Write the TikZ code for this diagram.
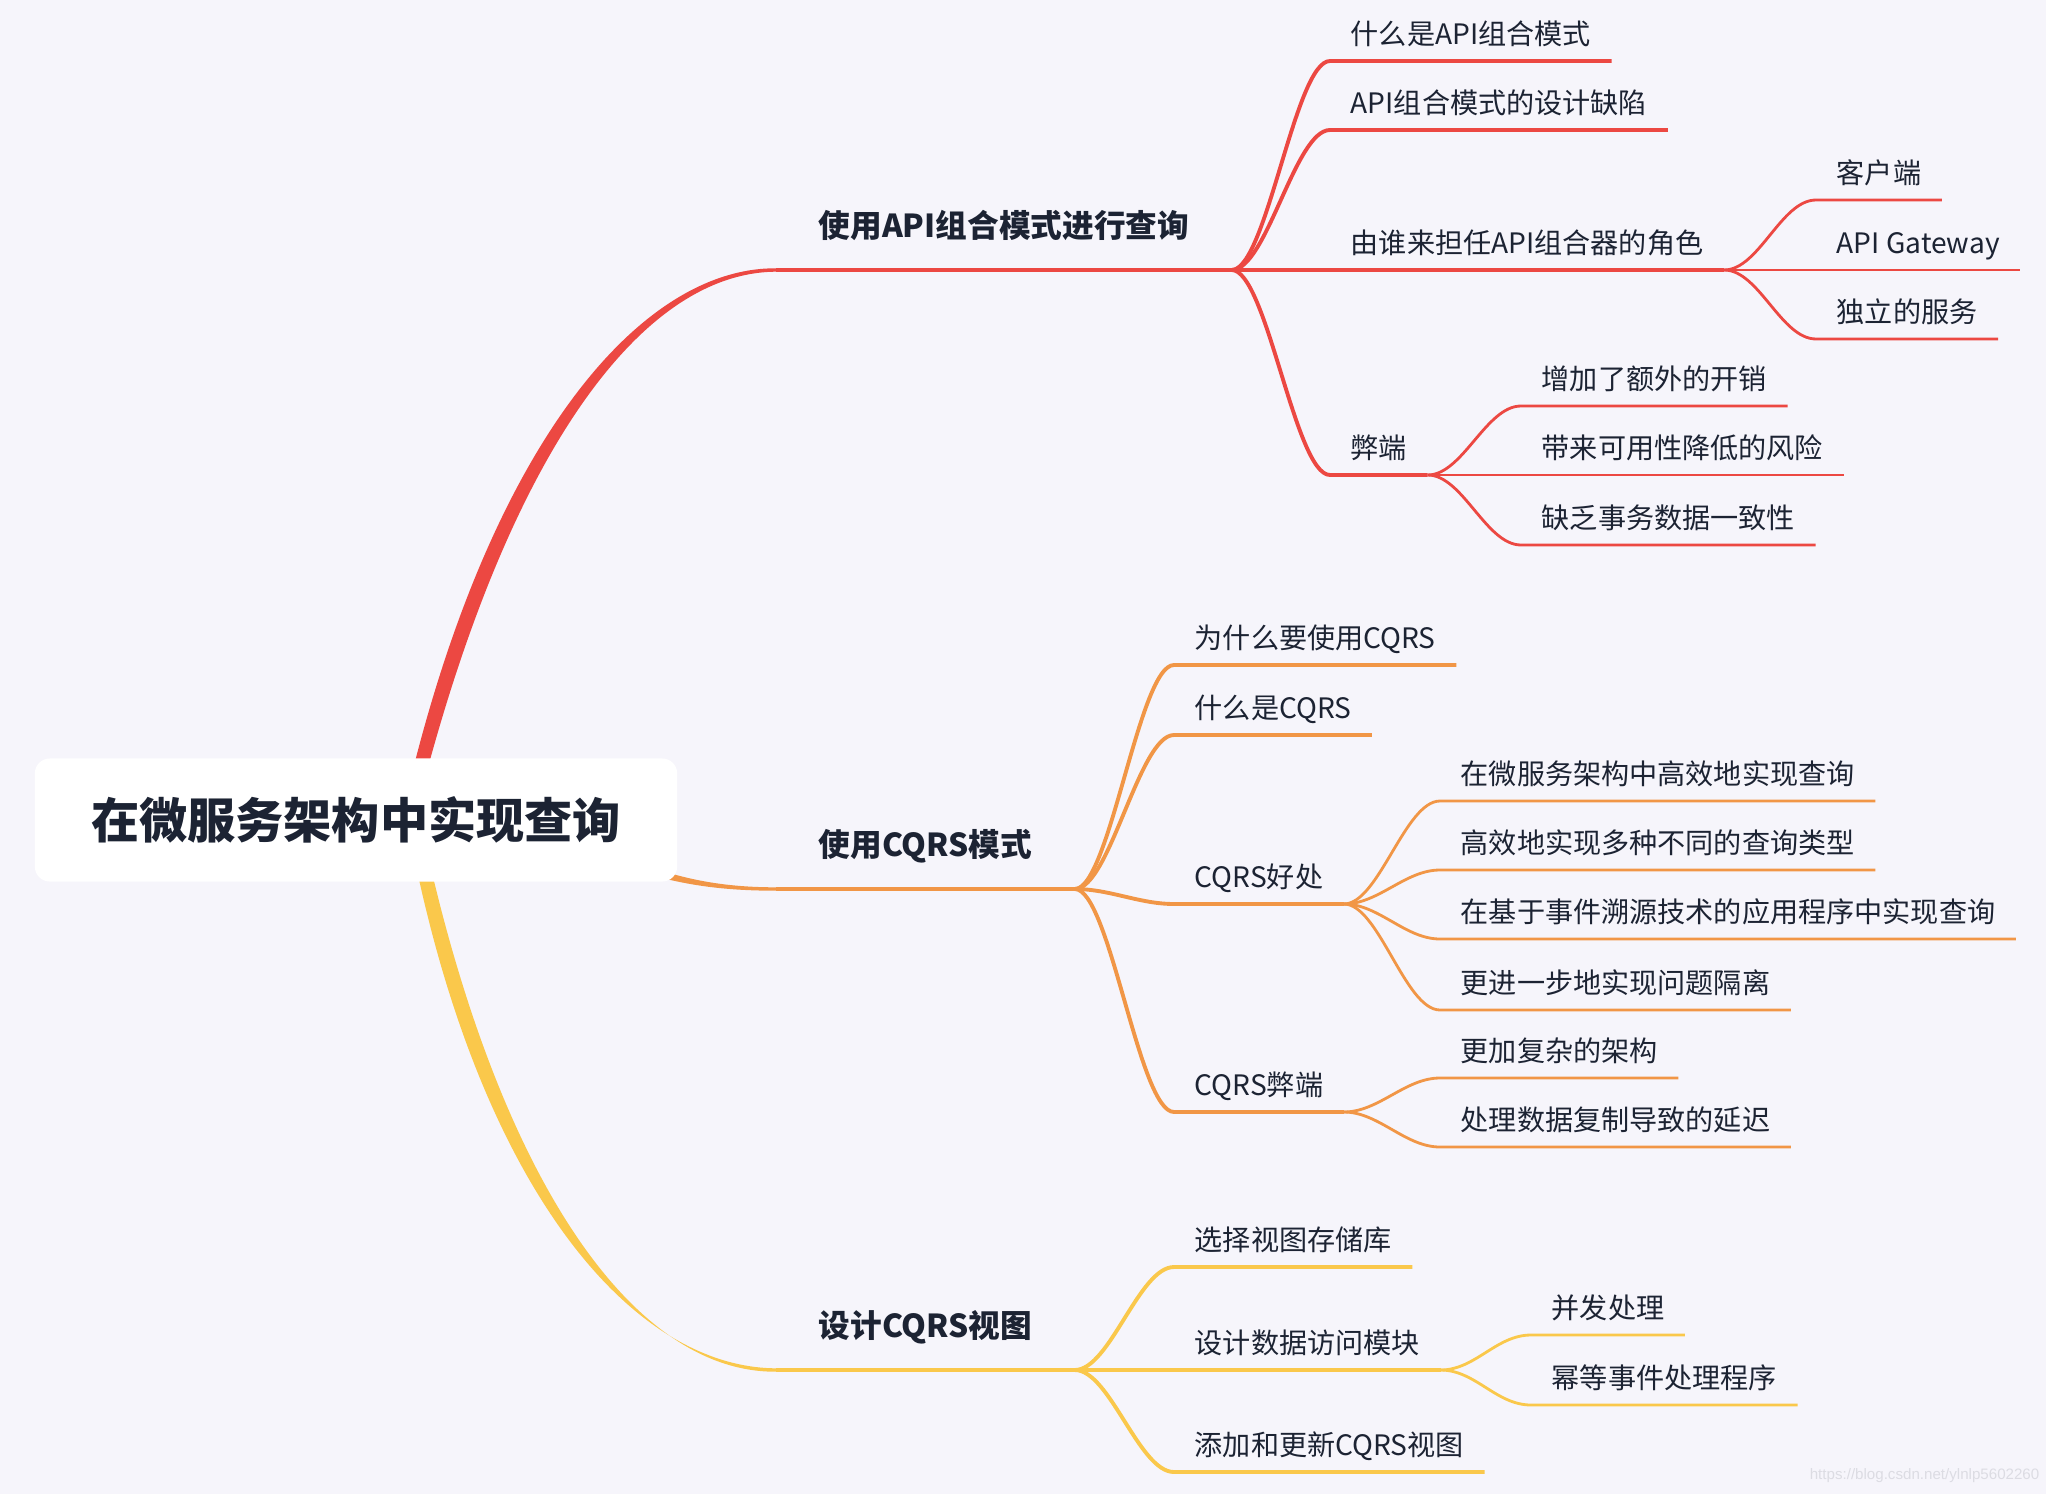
\documentclass[tikz,border=0pt]{standalone}
\usepackage{fontspec}
\setmainfont{Noto Sans CJK SC}
\newfontfamily\wmfont{Liberation Sans}
\usepackage{xcolor}
\usetikzlibrary{calc}

\definecolor{bgcol}{HTML}{F6F5FB}
\definecolor{ink}{HTML}{1C2333}
\definecolor{redc}{HTML}{EC4842}
\definecolor{orangec}{HTML}{F19646}
\definecolor{yellowc}{HTML}{FAC84B}
\definecolor{wmcol}{HTML}{DCDCE3}

\pgfdeclarelayer{back}
\pgfdeclarelayer{mid}
\pgfsetlayers{back,mid,main}

\begin{document}
\begin{tikzpicture}[x=0.01cm,y=-0.01cm]
	\tikzstyle{root_style} = [rectangle,rounded corners=0.15cm,fill=white,minimum width=6.42cm,minimum height=1.23cm,text=ink,font=\fontsize{13.7}{16}\selectfont\bfseries]
	\tikzstyle{main_style} = [anchor=south west,inner xsep=0.42cm,inner ysep=0.27cm,text height=0.26cm,text depth=0.05cm,text=ink,font=\fontsize{9}{11}\selectfont\bfseries]
	\tikzstyle{sub_style} = [anchor=south west,inner xsep=0.2cm,inner ysep=0.11cm,text height=0.24cm,text depth=0.05cm,text=ink,font=\fontsize{8}{10}\selectfont]
	\tikzstyle{red_line} = [draw=redc,line width=1.1pt]
	\tikzstyle{red_thin} = [draw=redc,line width=0.8pt]
	\tikzstyle{orange_line} = [draw=orangec,line width=1.1pt]
	\tikzstyle{orange_thin} = [draw=orangec,line width=0.8pt]
	\tikzstyle{yellow_line} = [draw=yellowc,line width=1.1pt]
	\tikzstyle{yellow_thin} = [draw=yellowc,line width=0.8pt]

	\begin{pgfonlayer}{back}
		\fill[bgcol] (0,0) rectangle (2046,1494);
	\end{pgfonlayer}
	\useasboundingbox (0,0) rectangle (2046,1494);

	% root and main topics
	\node[root_style] (root) at (356,820) {在微服务架构中实现查询};
	\node[main_style] (m1) at (776,270) {使用API组合模式进行查询};
	\node[main_style] (m2) at (776,889) {使用CQRS模式};
	\node[main_style] (m3) at (776,1370) {设计CQRS视图};

	% API composition
	\node[sub_style] (a1) at (1330,61) {什么是API组合模式};
	\node[sub_style] (a2) at (1330,130) {API组合模式的设计缺陷};
	\node[sub_style] (a3) at (1330,270) {由谁来担任API组合器的角色};
	\node[sub_style] (a4) at (1330,475) {弊端};
	\node[sub_style] (b1) at (1816,200) {客户端};
	\node[sub_style] (b2) at (1816,270) {API Gateway};
	\node[sub_style] (b3) at (1816,339) {独立的服务};
	\node[sub_style] (c1) at (1521,406) {增加了额外的开销};
	\node[sub_style] (c2) at (1521,475) {带来可用性降低的风险};
	\node[sub_style] (c3) at (1521,545) {缺乏事务数据一致性};

	% CQRS
	\node[sub_style] (d1) at (1174,665) {为什么要使用CQRS};
	\node[sub_style] (d2) at (1174,735) {什么是CQRS};
	\node[sub_style] (d3) at (1174,904) {CQRS好处};
	\node[sub_style] (d4) at (1174,1112) {CQRS弊端};
	\node[sub_style] (e1) at (1440,801) {在微服务架构中高效地实现查询};
	\node[sub_style] (e2) at (1440,870) {高效地实现多种不同的查询类型};
	\node[sub_style] (e3) at (1440,939) {在基于事件溯源技术的应用程序中实现查询};
	\node[sub_style] (e4) at (1440,1010) {更进一步地实现问题隔离};
	\node[sub_style] (f1) at (1440,1078) {更加复杂的架构};
	\node[sub_style] (f2) at (1440,1147) {处理数据复制导致的延迟};

	% CQRS views
	\node[sub_style] (g1) at (1174,1267) {选择视图存储库};
	\node[sub_style] (g2) at (1174,1370) {设计数据访问模块};
	\node[sub_style] (g3) at (1174,1472) {添加和更新CQRS视图};
	\node[sub_style] (h1) at (1531,1335) {并发处理};
	\node[sub_style] (h2) at (1531,1405) {幂等事件处理程序};

	\node[anchor=east,inner sep=0pt,text=wmcol,font=\wmfont\fontsize{4.3}{5}\selectfont] (wm) at (2040,1476) {https://blog.csdn.net/ylnlp5602260};

	% tapered branches out of the root
	\begin{pgfonlayer}{mid}
		\fill[redc] ($(root.north)+(52,32)$) .. controls (491,444) and (640,267.5) .. ($(m1.south west)+(0,-1.7)$) -- ($(m1.south west)+(0,1.7)$) .. controls (640,272.5) and (509,456) .. ($(root.north)+(66,32)$) -- cycle;
		\fill[orangec] ($(root.east)+(-77,30)$) .. controls (660,871) and (700,887.3) .. ($(m2.south west)+(0,-1.7)$) -- ($(m2.south west)+(0,1.7)$) .. controls (700,890.7) and (660,879) .. ($(root.east)+(-77,40)$) -- cycle;
		\fill[yellowc] ($(root.south)+(57,-31)$) .. controls (481,1186) and (630,1367.5) .. ($(m3.south west)+(0,-1.7)$) -- ($(m3.south west)+(0,1.7)$) .. controls (630,1372.5) and (500,1174) .. ($(root.south)+(71,-31)$) -- cycle;
	\end{pgfonlayer}

	% underlines of the main topics
	\draw[red_line] (m1.south west) -- (m1.south east);
	\draw[orange_line] (m2.south west) -- (m2.south east);
	\draw[yellow_line] (m3.south west) -- (m3.south east);

	\draw[red_line] (m1.south east) .. controls +(35,0) and +(-35,0) .. (a1.south west) -- (a1.south east);
	\draw[red_line] (m1.south east) .. controls +(35,0) and +(-35,0) .. (a2.south west) -- (a2.south east);
	\draw[red_line] (m1.south east) .. controls +(35,0) and +(-35,0) .. (a3.south west) -- (a3.south east);
	\draw[red_line] (m1.south east) .. controls +(35,0) and +(-35,0) .. (a4.south west) -- (a4.south east);
	\draw[red_thin] (a3.south east) .. controls +(35,0) and +(-35,0) .. (b1.south west) -- (b1.south east);
	\draw[red_thin] (a3.south east) .. controls +(35,0) and +(-35,0) .. (b2.south west) -- (b2.south east);
	\draw[red_thin] (a3.south east) .. controls +(35,0) and +(-35,0) .. (b3.south west) -- (b3.south east);
	\draw[red_thin] (a4.south east) .. controls +(35,0) and +(-35,0) .. (c1.south west) -- (c1.south east);
	\draw[red_thin] (a4.south east) .. controls +(35,0) and +(-35,0) .. (c2.south west) -- (c2.south east);
	\draw[red_thin] (a4.south east) .. controls +(35,0) and +(-35,0) .. (c3.south west) -- (c3.south east);

	\draw[orange_line] (m2.south east) .. controls +(35,0) and +(-35,0) .. (d1.south west) -- (d1.south east);
	\draw[orange_line] (m2.south east) .. controls +(35,0) and +(-35,0) .. (d2.south west) -- (d2.south east);
	\draw[orange_line] (m2.south east) .. controls +(35,0) and +(-35,0) .. (d3.south west) -- (d3.south east);
	\draw[orange_line] (m2.south east) .. controls +(35,0) and +(-35,0) .. (d4.south west) -- (d4.south east);
	\draw[orange_thin] (d3.south east) .. controls +(35,0) and +(-35,0) .. (e1.south west) -- (e1.south east);
	\draw[orange_thin] (d3.south east) .. controls +(35,0) and +(-35,0) .. (e2.south west) -- (e2.south east);
	\draw[orange_thin] (d3.south east) .. controls +(35,0) and +(-35,0) .. (e3.south west) -- (e3.south east);
	\draw[orange_thin] (d3.south east) .. controls +(35,0) and +(-35,0) .. (e4.south west) -- (e4.south east);
	\draw[orange_thin] (d4.south east) .. controls +(35,0) and +(-35,0) .. (f1.south west) -- (f1.south east);
	\draw[orange_thin] (d4.south east) .. controls +(35,0) and +(-35,0) .. (f2.south west) -- (f2.south east);

	\draw[yellow_line] (m3.south east) .. controls +(35,0) and +(-35,0) .. (g1.south west) -- (g1.south east);
	\draw[yellow_line] (m3.south east) .. controls +(35,0) and +(-35,0) .. (g2.south west) -- (g2.south east);
	\draw[yellow_line] (m3.south east) .. controls +(35,0) and +(-35,0) .. (g3.south west) -- (g3.south east);
	\draw[yellow_thin] (g2.south east) .. controls +(35,0) and +(-35,0) .. (h1.south west) -- (h1.south east);
	\draw[yellow_thin] (g2.south east) .. controls +(35,0) and +(-35,0) .. (h2.south west) -- (h2.south east);
\end{tikzpicture}
\end{document}
